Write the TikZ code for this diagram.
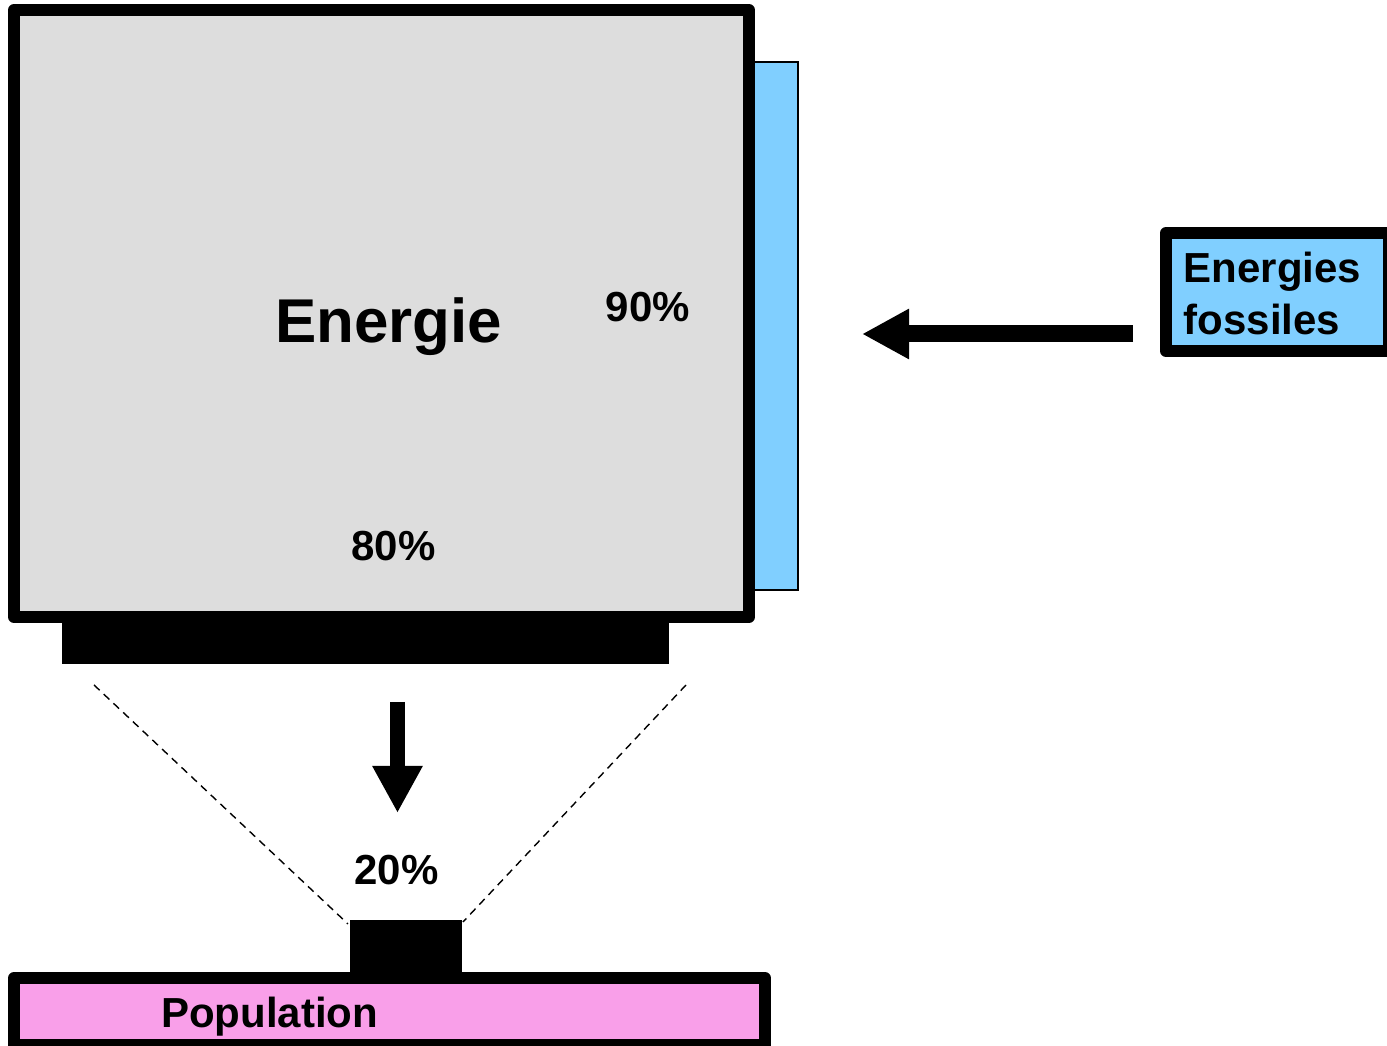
\documentclass[tikz,border=0pt]{standalone}
\usepackage{fontspec}
\setmainfont{Liberation Sans}
\usepackage{xcolor}
\usetikzlibrary{arrows.meta}
\definecolor{grisbox}{HTML}{DDDDDD}
\definecolor{bleufos}{HTML}{80CFFF}
\definecolor{rosepop}{HTML}{F99FE9}
\tikzset{
	cadre/.style={draw=black, line width=3.4pt, line join=round},
	etiq/.style={font=\bfseries\fontsize{11.95}{14.8}\selectfont, inner sep=0pt},
	grosse fleche/.style={line width=#1, -{Triangle[length=0.47cm, width=0.47cm]}},
	pointille/.style={line width=0.4pt, dash pattern=on 2.2pt off 1.6pt}
}
\begin{document}
\begin{tikzpicture}
						\useasboundingbox (0,0)rectangle(13.87,-10.46);
						\draw[fill=bleufos, line width=0.5pt] (7.50,-0.62)rectangle(7.98,-5.90);
						\draw[cadre, fill=grisbox] (0.14,-0.10)rectangle(7.49,-6.17);
						\fill[black] (0.62,-6.12)rectangle(6.69,-6.64);
						\fill[black] (3.50,-9.20)rectangle(4.62,-9.72);
						\draw[cadre, fill=rosepop] (0.14,-9.78)rectangle(7.65,-10.45);
						\node[cadre, fill=bleufos, minimum width=2.23cm, minimum height=1.18cm, inner sep=0pt] (fossiles) at (12.775,-2.92) {};
						\node[etiq, anchor=base west, align=left] (nomfos) at (11.83,-3.35) {Energies\\fossiles};
						\node[etiq, font=\bfseries\fontsize{17.6}{20}\selectfont, anchor=base] (energie) at (3.885,-3.43) {Energie};
						\node[etiq, anchor=base] (p90) at (6.48,-3.22) {90\%};
						\node[etiq, anchor=base] (p80) at (3.935,-5.61) {80\%};
						\node[etiq, anchor=base] (p20) at (3.965,-8.85) {20\%};
						\node[etiq, anchor=base] (population) at (2.695,-10.28) {Population};
						\coordinate (barreG) at (0.94,-6.85);
						\coordinate (barreD) at (6.86,-6.85);
						\coordinate (blocG) at (3.48,-9.24);
						\coordinate (blocD) at (4.63,-9.22);
						\coordinate (pointe) at (8.62,-3.34);
						\coordinate (depart) at (11.33,-3.34);
						\coordinate (haut) at (3.975,-7.02);
						\coordinate (bas) at (3.975,-8.13);
						\draw[pointille] (barreG)--(blocG);
						\draw[pointille] (barreD)--(blocD);
						\draw[grosse fleche=0.17cm] (depart) to (pointe);
						\draw[grosse fleche=0.15cm] (haut) to (bas);
					\end{tikzpicture}
\end{document}
